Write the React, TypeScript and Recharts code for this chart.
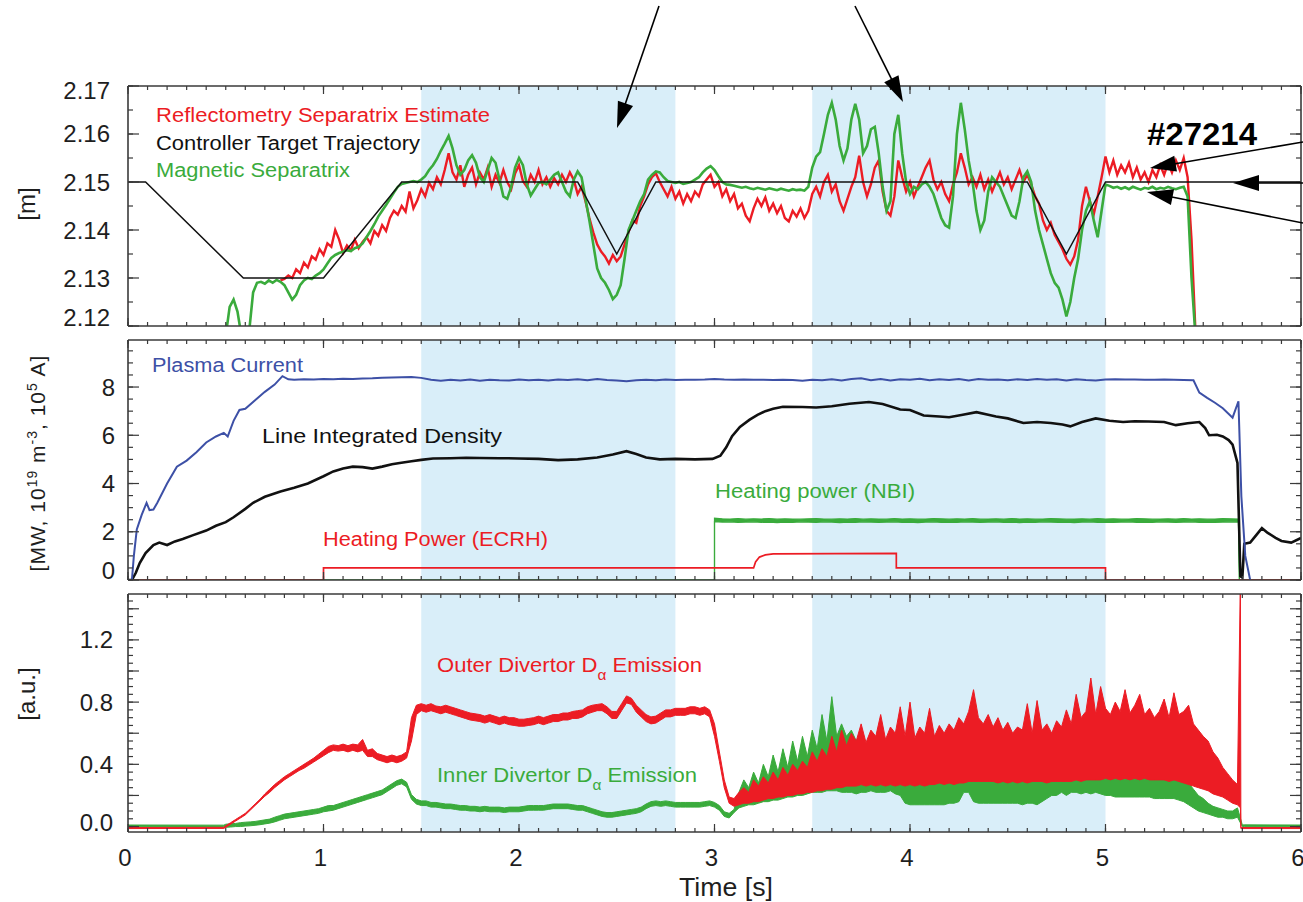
import React from 'react';
import { LineChart, ComposedChart, Line, Area, XAxis, YAxis, ReferenceArea } from 'recharts';

// ---------- look ----------
const FONT = '"Liberation Sans", Arial, Helvetica, sans-serif';
const INK = '#1e1e1e';
const FRAME = '#3a3a3a';
const RED = '#ec1c24';
const GREEN = '#3aab3c';
const BLUE = '#3d50a6';
const BLACK = '#111111';
const SHADE = '#d9eef9';

// ---------- time axis ----------
const X_MAJOR = [0, 1, 2, 3, 4, 5, 6];
const X_LABELS = ['0', '1', '2', '3', '4', '5', '6'];
const X_MINOR = Array.from({ length: 61 }, (_, i) => i / 10);
// end points of the time window, used as the frame axes' data
const FRAME_DATA = [{ t: 0 }, { t: 6 }];

// shaded phases [s]
const phaseStart = [1.5, 3.5];
const phaseEnd = [2.8, 5.0];

// ---------- panel 1: separatrix position [m] ----------
const P1_TICKS = [2.12, 2.13, 2.14, 2.15, 2.16, 2.17];
const P1_LABELS = ['2.12', '2.13', '2.14', '2.15', '2.16', '2.17'];
const P1_MINOR = Array.from({ length: 11 }, (_, i) => 2.12 + i * 0.005);

const trajT = [0, 0.09, 0.59, 1.0, 1.4, 2.3, 2.5, 2.7, 4.6, 4.8, 5.0, 6.0];
const trajV = [2.15, 2.15, 2.13, 2.13, 2.15, 2.15, 2.135, 2.15, 2.15, 2.135, 2.15, 2.15];

const reflT0 = 0.78;
const reflDt = 0.02;
const reflV = [
  2.1295, 2.1298, 2.1305, 2.13, 2.1318, 2.131, 2.1332, 2.1322, 2.1345, 2.1338,
  2.136, 2.1348, 2.1372, 2.1365, 2.14, 2.138, 2.1352, 2.1368, 2.1358, 2.138,
  2.1362, 2.1375, 2.1385, 2.1372, 2.1398, 2.1388, 2.141, 2.1398, 2.1425, 2.144,
  2.1432, 2.145, 2.1438, 2.148, 2.1445, 2.1462, 2.1485, 2.147, 2.1498, 2.1485,
  2.151, 2.1495, 2.1525, 2.156, 2.152, 2.1505, 2.1535, 2.149, 2.1515, 2.153,
  2.1495, 2.152, 2.1505, 2.153, 2.149, 2.1515, 2.1498, 2.1525, 2.15, 2.1485,
  2.1518, 2.1535, 2.1502, 2.149, 2.1515, 2.15, 2.1525, 2.1495, 2.151, 2.149,
  2.1508, 2.1495, 2.1515, 2.15, 2.152, 2.1505, 2.1475, 2.149, 2.146, 2.1425,
  2.1395, 2.137, 2.1355, 2.1345, 2.133, 2.1348, 2.1335, 2.1345, 2.137, 2.1395,
  2.142, 2.1415, 2.145, 2.147, 2.1495, 2.151, 2.1518, 2.15, 2.1485, 2.147,
  2.149, 2.1465, 2.148, 2.1455, 2.1475, 2.146, 2.148, 2.147, 2.1495, 2.1505,
  2.1515, 2.149, 2.15, 2.147, 2.1485, 2.146, 2.1475, 2.1445, 2.1455, 2.143,
  2.1418, 2.1445, 2.1465, 2.145, 2.1468, 2.144, 2.1455, 2.1435, 2.145, 2.1425,
  2.1418, 2.144, 2.1428, 2.1445, 2.1425, 2.144, 2.1475, 2.149, 2.147, 2.15,
  2.1515, 2.148, 2.1495, 2.146, 2.144, 2.1465, 2.149, 2.151, 2.1555, 2.15,
  2.147, 2.1495, 2.153, 2.1545, 2.148, 2.144, 2.143, 2.147, 2.1545, 2.151,
  2.148, 2.15, 2.147, 2.149, 2.151, 2.153, 2.1545, 2.1505, 2.1485, 2.15,
  2.1475, 2.146, 2.1495, 2.152, 2.156, 2.153, 2.1495, 2.151, 2.149, 2.1515,
  2.1485, 2.1505, 2.148, 2.15, 2.152, 2.1495, 2.151, 2.1485, 2.1505, 2.1525,
  2.15, 2.1515, 2.1495, 2.147, 2.1455, 2.142, 2.14, 2.1415, 2.139, 2.1375,
  2.136, 2.134, 2.1328, 2.1345, 2.138, 2.145, 2.149, 2.146, 2.1433, 2.147,
  2.151, 2.1553, 2.152, 2.1545, 2.1515, 2.1535, 2.152, 2.154, 2.151, 2.153,
  2.1505, 2.152, 2.15, 2.1525, 2.151, 2.1535, 2.1515, 2.154, 2.152, 2.1545,
  2.1525, 2.155, 2.151, 2.138, 2.119, 2.118, 2.1175,
];

const magT0 = 0.5;
const magDt = 0.02;
const magV = [
  2.118, 2.124, 2.1255, 2.123, 2.118, 2.116, 2.119, 2.127, 2.129, 2.1292,
  2.1288, 2.1295, 2.129, 2.1296, 2.1292, 2.1285, 2.127, 2.1255, 2.1265, 2.1285,
  2.1295, 2.13, 2.1298, 2.1305, 2.131, 2.1318, 2.133, 2.1342, 2.1348, 2.1352,
  2.1355, 2.1358, 2.1356, 2.1362, 2.1365, 2.1372, 2.1385, 2.1398, 2.1412, 2.1428,
  2.144, 2.1452, 2.1465, 2.1478, 2.149, 2.1496, 2.1498, 2.15, 2.1502, 2.15,
  2.1505, 2.1512, 2.1525, 2.1535, 2.1548, 2.1565, 2.158, 2.1596, 2.157, 2.1535,
  2.1515, 2.1525, 2.1545, 2.1556, 2.154, 2.151, 2.15, 2.1525, 2.155, 2.154,
  2.1505, 2.147, 2.1465, 2.149, 2.153, 2.155, 2.1535, 2.1495, 2.1472, 2.1485,
  2.1498, 2.15, 2.1495, 2.1505, 2.1515, 2.152, 2.15, 2.148, 2.147, 2.1505,
  2.1522, 2.151, 2.1465, 2.142, 2.137, 2.132, 2.13, 2.129, 2.1275, 2.1256,
  2.1265, 2.1285, 2.134, 2.14, 2.142, 2.144, 2.146, 2.1475, 2.1505, 2.1515,
  2.1522, 2.152, 2.151, 2.1502, 2.15, 2.1498, 2.15, 2.1496, 2.1498, 2.15,
  2.1505, 2.151, 2.152, 2.1528, 2.1533, 2.1525, 2.1512, 2.15, 2.1495, 2.1494,
  2.1492, 2.149, 2.1488, 2.149, 2.1487, 2.1485, 2.1488, 2.1486, 2.1484, 2.1487,
  2.1485, 2.1483, 2.1486, 2.1484, 2.1482, 2.1485, 2.1483, 2.1484, 2.1482, 2.149,
  2.153, 2.1553, 2.1562, 2.16, 2.164, 2.1665, 2.163, 2.1575, 2.1545, 2.157,
  2.163, 2.1663, 2.163, 2.156, 2.1575, 2.161, 2.1615, 2.156, 2.149, 2.144,
  2.146, 2.16, 2.164, 2.156, 2.15, 2.1475, 2.149, 2.1485, 2.1495, 2.15,
  2.149, 2.1475, 2.145, 2.1425, 2.141, 2.1405, 2.147, 2.16, 2.1665, 2.161,
  2.1545, 2.15, 2.144, 2.14, 2.142, 2.148, 2.151, 2.15, 2.149, 2.147,
  2.145, 2.143, 2.1425, 2.146, 2.151, 2.1522, 2.15, 2.144, 2.14, 2.137,
  2.134, 2.131, 2.129, 2.128, 2.1255, 2.122, 2.125, 2.13, 2.134, 2.14,
  2.144, 2.146, 2.142, 2.1385, 2.144, 2.1495, 2.1492, 2.1488, 2.149, 2.1486,
  2.1489, 2.1485, 2.149, 2.1487, 2.1484, 2.1488, 2.1486, 2.149, 2.1485, 2.1488,
  2.1486, 2.149, 2.1487, 2.1485, 2.1488, 2.149, 2.147, 2.13, 2.118,
];

// ---------- panel 2: MW, 1e19 m^-3, 1e5 A ----------
const P2_TICKS = [0, 2, 4, 6, 8];
const P2_LABELS = ['0', '2', '4', '6', '8'];
const P2_MINOR = Array.from({ length: 20 }, (_, i) => i * 0.5);

const ipHeadT = [0, 0.02, 0.03, 0.045, 0.07, 0.095, 0.11, 0.13, 0.15, 0.2, 0.25, 0.3, 0.35, 0.4, 0.45, 0.49, 0.51, 0.54, 0.57, 0.6, 0.65, 0.7, 0.75, 0.79, 0.82];
const ipHeadV = [0, 0, 1.0, 2.1, 2.7, 3.2, 2.9, 2.92, 3.2, 4.0, 4.7, 4.95, 5.3, 5.7, 5.95, 6.1, 5.95, 6.6, 7.05, 7.1, 7.45, 7.8, 8.1, 8.45, 8.32];
const ipFlatT0 = 0.85;
const ipFlatDt = 0.05;
const ipFlatV = [
  8.3, 8.32, 8.31, 8.33, 8.32, 8.34, 8.33, 8.35, 8.36, 8.38,
  8.4, 8.41, 8.42, 8.38, 8.3, 8.26, 8.3, 8.27, 8.31, 8.26,
  8.3, 8.28, 8.27, 8.31, 8.28, 8.3, 8.27, 8.31, 8.29, 8.32,
  8.28, 8.33, 8.29, 8.27, 8.24, 8.28, 8.3, 8.28, 8.31, 8.29,
  8.3, 8.3, 8.31, 8.33, 8.31, 8.3, 8.31, 8.3, 8.3, 8.29,
  8.3, 8.29, 8.26, 8.3, 8.28, 8.32, 8.27, 8.33, 8.36, 8.28,
  8.33, 8.27, 8.32, 8.3, 8.34, 8.28, 8.32, 8.29, 8.33, 8.27,
  8.33, 8.3, 8.31, 8.28, 8.32, 8.29, 8.33, 8.3, 8.32, 8.27,
  8.32, 8.29, 8.27, 8.31, 8.32, 8.31, 8.31, 8.3, 8.3, 8.31,
  8.3, 8.29, 8.28,
];
const ipTailT = [5.48, 5.52, 5.56, 5.6, 5.65, 5.68, 5.695, 5.715, 5.74];
const ipTailV = [7.77, 7.55, 7.35, 7.12, 6.73, 7.41, 3.46, 1.0, 0];

const densT = [
  0, 0.02, 0.04, 0.06, 0.09, 0.13, 0.16, 0.2, 0.24, 0.28, 0.33, 0.4, 0.45, 0.5, 0.54, 0.6, 0.64, 0.7, 0.78, 0.85,
  0.92, 1.0, 1.05, 1.1, 1.15, 1.2, 1.25, 1.3, 1.35, 1.39, 1.45, 1.5, 1.56, 1.65, 1.73, 1.8, 1.9, 2.0, 2.1, 2.2,
  2.3, 2.4, 2.48, 2.55, 2.6, 2.65, 2.72, 2.8, 2.9, 2.99, 3.03, 3.06, 3.09, 3.13, 3.18, 3.22, 3.26, 3.3, 3.35, 3.45,
  3.52, 3.6, 3.69, 3.79, 3.86, 3.95, 4.0, 4.07, 4.15, 4.2, 4.27, 4.34, 4.4, 4.44, 4.5, 4.58, 4.65, 4.72, 4.78, 4.82,
  4.88, 4.95, 5.02, 5.09, 5.15, 5.22, 5.3, 5.36, 5.42, 5.48, 5.51, 5.53, 5.57, 5.6, 5.63, 5.65, 5.675, 5.69, 5.7, 5.71,
  5.74, 5.77, 5.8, 5.83, 5.87, 5.9, 5.95, 6.0,
];
const densV = [
  0, 0, 0.3, 0.7, 1.12, 1.45, 1.55, 1.45, 1.6, 1.7, 1.85, 2.05, 2.25, 2.4, 2.6, 2.95, 3.2, 3.45, 3.67, 3.82,
  4.0, 4.3, 4.5, 4.62, 4.7, 4.68, 4.62, 4.7, 4.8, 4.85, 4.92, 4.98, 5.04, 5.05, 5.07, 5.06, 5.05, 5.04, 5.02, 4.97,
  5.0, 5.08, 5.2, 5.34, 5.22, 5.08, 5.0, 5.02, 5.0, 5.02, 5.15, 5.5, 5.96, 6.35, 6.65, 6.85, 7.0, 7.1, 7.18, 7.17,
  7.15, 7.2, 7.31, 7.38, 7.3, 7.07, 7.05, 6.82, 6.78, 6.75, 6.85, 6.96, 6.85, 6.78, 6.7, 6.51, 6.55, 6.51, 6.45, 6.37,
  6.55, 6.7, 6.6, 6.55, 6.58, 6.57, 6.55, 6.42, 6.5, 6.55, 6.3, 6.0, 6.02, 5.95, 5.8, 5.61, 4.85, 0.15, 0.1, 1.5,
  1.55, 1.85, 2.15, 1.95, 1.75, 1.62, 1.55, 1.74,
];

const ecrhT = [0, 1.0, 1.0, 3.2, 3.21, 3.23, 3.26, 3.3, 3.93, 3.93, 5.0, 5.0, 6.0];
const ecrhV = [0, 0, 0.5, 0.5, 0.75, 0.95, 1.04, 1.08, 1.1, 0.5, 0.5, 0, 0];

// NBI power: lower / upper excursion of the noisy plateau
const nbiHeadT = [0, 3.0];
const nbiHeadLo = [0, 0];
const nbiHeadHi = [0, 0];
const nbiT0 = 3.0;
const nbiDt = 0.04;
const nbiLo = [
  2.42, 2.4, 2.41, 2.39, 2.4, 2.41, 2.39, 2.4, 2.38, 2.4,
  2.39, 2.41, 2.4, 2.39, 2.41, 2.4, 2.38, 2.4, 2.39, 2.41,
  2.4, 2.39, 2.4, 2.41, 2.39, 2.4, 2.38, 2.4, 2.41, 2.39,
  2.4, 2.39, 2.41, 2.4, 2.39, 2.4, 2.41, 2.39, 2.4, 2.38,
  2.4, 2.39, 2.41, 2.4, 2.39, 2.4, 2.38, 2.4, 2.41, 2.39,
  2.4, 2.39, 2.4, 2.41, 2.39, 2.4, 2.39, 2.41, 2.4, 2.39,
  2.4, 2.41, 2.39, 2.4, 2.39, 2.4, 2.41, 2.4,
];
const nbiHi = [
  2.56, 2.54, 2.53, 2.55, 2.52, 2.54, 2.53, 2.55, 2.52, 2.54,
  2.53, 2.52, 2.54, 2.55, 2.53, 2.52, 2.54, 2.53, 2.55, 2.52,
  2.54, 2.53, 2.52, 2.55, 2.53, 2.54, 2.52, 2.53, 2.55, 2.54,
  2.52, 2.54, 2.53, 2.55, 2.52, 2.53, 2.54, 2.52, 2.55, 2.53,
  2.54, 2.52, 2.53, 2.55, 2.54, 2.52, 2.53, 2.54, 2.52, 2.55,
  2.53, 2.54, 2.52, 2.53, 2.55, 2.54, 2.52, 2.53, 2.54, 2.52,
  2.55, 2.53, 2.54, 2.52, 2.53, 2.55, 2.54, 2.53,
];
const nbiTailT = [5.685, 6.0];
const nbiTailLo = [0, 0];
const nbiTailHi = [0, 0];

// ---------- panel 3: divertor D-alpha [a.u.] ----------
const P3_TICKS = [0, 0.4, 0.8, 1.2];
const P3_LABELS = ['0.0', '0.4', '0.8', '1.2'];
const P3_MAJOR = [0, 0.2, 0.4, 0.6, 0.8, 1.0, 1.2, 1.4];
const P3_MINOR = Array.from({ length: 30 }, (_, i) => i * 0.05);

const DA_T0 = 0.5;
const DA_DT = 0.025;

const outerHeadT = [0, 0.49];
const outerHeadLo = [-0.013, -0.012];
const outerHeadHi = [-0.006, -0.005];
const outerLo = [
  -0.005, 0.015, 0.035, 0.055, 0.075, 0.105, 0.135, 0.165,
  0.195, 0.22, 0.25, 0.275, 0.3, 0.32, 0.34, 0.36,
  0.375, 0.395, 0.415, 0.435, 0.455, 0.475, 0.49, 0.485,
  0.49, 0.48, 0.49, 0.48, 0.49, 0.45, 0.45, 0.43,
  0.42, 0.41, 0.42, 0.41, 0.42, 0.44, 0.55, 0.72,
  0.745, 0.735, 0.745, 0.735, 0.725, 0.735, 0.725, 0.715,
  0.705, 0.695, 0.685, 0.68, 0.675, 0.665, 0.675, 0.665,
  0.655, 0.665, 0.655, 0.65, 0.645, 0.645, 0.65, 0.655,
  0.665, 0.655, 0.665, 0.675, 0.675, 0.685, 0.685, 0.695,
  0.695, 0.705, 0.725, 0.735, 0.745, 0.745, 0.725, 0.695,
  0.695, 0.745, 0.795, 0.785, 0.735, 0.705, 0.675, 0.66,
  0.665, 0.685, 0.705, 0.705, 0.715, 0.715, 0.715, 0.725,
  0.725, 0.715, 0.725, 0.705, 0.58, 0.42, 0.25, 0.15,
  0.13, 0.14, 0.15, 0.15, 0.16, 0.16, 0.17, 0.18,
  0.18, 0.19, 0.19, 0.2, 0.2, 0.21, 0.21, 0.22,
  0.22, 0.23, 0.23, 0.24, 0.24, 0.25, 0.25, 0.26,
  0.26, 0.26, 0.27, 0.26, 0.27, 0.26, 0.27, 0.26,
  0.27, 0.26, 0.27, 0.26, 0.27, 0.26, 0.27, 0.26,
  0.27, 0.27, 0.28, 0.27, 0.28, 0.27, 0.28, 0.28,
  0.29, 0.29, 0.29, 0.29, 0.29, 0.29, 0.28, 0.29,
  0.28, 0.29, 0.28, 0.29, 0.28, 0.29, 0.29, 0.29,
  0.28, 0.29, 0.29, 0.29, 0.29, 0.29, 0.3, 0.29,
  0.3, 0.3, 0.3, 0.3, 0.31, 0.3, 0.31, 0.3,
  0.31, 0.3, 0.31, 0.3, 0.31, 0.3, 0.3, 0.3,
  0.3, 0.29, 0.3, 0.29, 0.28, 0.27, 0.26, 0.25,
  0.24, 0.23, 0.21, 0.2, 0.19, 0.17, 0.15, 0.14,
];
const outerHi = [
  0.005, 0.025, 0.045, 0.065, 0.085, 0.115, 0.145, 0.175,
  0.21, 0.24, 0.27, 0.295, 0.32, 0.34, 0.36, 0.38,
  0.4, 0.42, 0.44, 0.465, 0.49, 0.515, 0.525, 0.52,
  0.53, 0.52, 0.53, 0.525, 0.56, 0.49, 0.5, 0.47,
  0.46, 0.45, 0.46, 0.45, 0.46, 0.48, 0.7, 0.78,
  0.79, 0.78, 0.79, 0.775, 0.77, 0.78, 0.77, 0.76,
  0.75, 0.74, 0.73, 0.725, 0.72, 0.71, 0.72, 0.71,
  0.7, 0.71, 0.7, 0.7, 0.69, 0.69, 0.695, 0.7,
  0.71, 0.7, 0.71, 0.72, 0.72, 0.73, 0.73, 0.74,
  0.745, 0.75, 0.77, 0.78, 0.785, 0.79, 0.77, 0.74,
  0.74, 0.79, 0.84, 0.825, 0.78, 0.75, 0.72, 0.705,
  0.71, 0.73, 0.75, 0.75, 0.76, 0.76, 0.76, 0.77,
  0.77, 0.76, 0.77, 0.75, 0.66, 0.48, 0.3, 0.19,
  0.18, 0.22, 0.25, 0.22, 0.3, 0.26, 0.32, 0.28,
  0.35, 0.3, 0.38, 0.33, 0.4, 0.36, 0.42, 0.38,
  0.48, 0.42, 0.5, 0.45, 0.58, 0.48, 0.62, 0.52,
  0.6, 0.55, 0.66, 0.54, 0.62, 0.58, 0.72, 0.56,
  0.64, 0.6, 0.77, 0.58, 0.8, 0.57, 0.64, 0.6,
  0.76, 0.58, 0.65, 0.6, 0.66, 0.62, 0.7, 0.66,
  0.74, 0.88, 0.7, 0.66, 0.72, 0.64, 0.7, 0.62,
  0.67, 0.6, 0.64, 0.62, 0.79, 0.6, 0.81, 0.62,
  0.66, 0.6, 0.68, 0.64, 0.75, 0.66, 0.85, 0.7,
  0.74, 0.955, 0.72, 0.9, 0.76, 0.72, 0.8, 0.74,
  0.88, 0.73, 0.78, 0.85, 0.72, 0.76, 0.7, 0.74,
  0.82, 0.7, 0.86, 0.72, 0.74, 0.78, 0.66, 0.62,
  0.58, 0.55, 0.48, 0.44, 0.38, 0.34, 0.3, 0.27,
];
const outerTailT = [5.69, 5.6925, 5.695, 6.0];
const outerTailLo = [0.12, -0.013, -0.013, -0.013];
const outerTailHi = [1.6, -0.006, -0.006, -0.006];

const innerHeadT = [0, 0.49];
const innerHeadLo = [0.001, 0.0];
const innerHeadHi = [0.01, 0.009];
const innerLo = [
  -0.005, -0.003, 0.0, 0.0, 0.003, 0.005, 0.008, 0.012,
  0.017, 0.022, 0.03, 0.04, 0.05, 0.055, 0.06, 0.065,
  0.07, 0.075, 0.08, 0.085, 0.095, 0.1, 0.105, 0.115,
  0.125, 0.135, 0.145, 0.155, 0.165, 0.175, 0.185, 0.195,
  0.205, 0.225, 0.245, 0.265, 0.275, 0.255, 0.175, 0.145,
  0.135, 0.135, 0.125, 0.125, 0.12, 0.115, 0.115, 0.11,
  0.105, 0.105, 0.1, 0.1, 0.095, 0.1, 0.095, 0.095,
  0.095, 0.09, 0.095, 0.095, 0.095, 0.1, 0.105, 0.105,
  0.105, 0.105, 0.11, 0.115, 0.115, 0.115, 0.115, 0.11,
  0.105, 0.105, 0.095, 0.085, 0.075, 0.065, 0.06, 0.06,
  0.065, 0.07, 0.075, 0.08, 0.085, 0.095, 0.115, 0.13,
  0.135, 0.13, 0.135, 0.13, 0.125, 0.125, 0.125, 0.125,
  0.125, 0.125, 0.13, 0.135, 0.125, 0.105, 0.065, 0.055,
  0.09, 0.12, 0.13, 0.14, 0.14, 0.15, 0.16, 0.16,
  0.17, 0.17, 0.18, 0.19, 0.19, 0.2, 0.2, 0.21,
  0.22, 0.22, 0.22, 0.23, 0.23, 0.23, 0.22, 0.22,
  0.22, 0.21, 0.22, 0.22, 0.23, 0.22, 0.22, 0.22,
  0.23, 0.21, 0.2, 0.15, 0.14, 0.14, 0.14, 0.14,
  0.14, 0.14, 0.14, 0.14, 0.15, 0.15, 0.16, 0.22,
  0.22, 0.16, 0.15, 0.15, 0.15, 0.15, 0.15, 0.15,
  0.15, 0.15, 0.15, 0.14, 0.15, 0.15, 0.14, 0.16,
  0.18, 0.2, 0.2, 0.22, 0.2, 0.22, 0.22, 0.21,
  0.22, 0.21, 0.22, 0.21, 0.2, 0.2, 0.19, 0.19,
  0.19, 0.19, 0.19, 0.19, 0.19, 0.19, 0.18, 0.18,
  0.18, 0.18, 0.18, 0.17, 0.16, 0.14, 0.12, 0.1,
  0.09, 0.08, 0.07, 0.06, 0.06, 0.05, 0.05, 0.06,
];
const innerHi = [
  0.015, 0.018, 0.02, 0.025, 0.028, 0.03, 0.033, 0.038,
  0.043, 0.048, 0.06, 0.07, 0.08, 0.085, 0.09, 0.095,
  0.1, 0.105, 0.11, 0.115, 0.125, 0.135, 0.135, 0.145,
  0.155, 0.165, 0.175, 0.185, 0.195, 0.205, 0.215, 0.225,
  0.235, 0.255, 0.275, 0.295, 0.305, 0.285, 0.205, 0.175,
  0.165, 0.165, 0.155, 0.155, 0.15, 0.145, 0.145, 0.14,
  0.135, 0.135, 0.13, 0.13, 0.125, 0.13, 0.125, 0.125,
  0.125, 0.12, 0.125, 0.125, 0.125, 0.13, 0.135, 0.135,
  0.135, 0.135, 0.14, 0.145, 0.145, 0.145, 0.145, 0.14,
  0.135, 0.135, 0.125, 0.115, 0.105, 0.095, 0.09, 0.09,
  0.095, 0.1, 0.105, 0.11, 0.115, 0.125, 0.145, 0.16,
  0.165, 0.16, 0.165, 0.16, 0.155, 0.155, 0.155, 0.155,
  0.155, 0.155, 0.16, 0.165, 0.155, 0.135, 0.095, 0.085,
  0.11, 0.22, 0.3, 0.25, 0.35, 0.28, 0.4, 0.32,
  0.46, 0.35, 0.5, 0.38, 0.55, 0.42, 0.58, 0.45,
  0.62, 0.5, 0.72, 0.55, 0.835, 0.58, 0.66, 0.58,
  0.62, 0.55, 0.6, 0.5, 0.58, 0.45, 0.52, 0.42,
  0.5, 0.44, 0.48, 0.4, 0.45, 0.38, 0.42, 0.36,
  0.4, 0.38, 0.42, 0.44, 0.48, 0.52, 0.58, 0.62,
  0.55, 0.48, 0.42, 0.4, 0.38, 0.4, 0.36, 0.38,
  0.36, 0.38, 0.36, 0.38, 0.35, 0.38, 0.36, 0.4,
  0.45, 0.52, 0.58, 0.62, 0.55, 0.6, 0.58, 0.62,
  0.55, 0.6, 0.52, 0.62, 0.45, 0.38, 0.4, 0.36,
  0.38, 0.36, 0.38, 0.36, 0.36, 0.35, 0.35, 0.34,
  0.34, 0.33, 0.33, 0.32, 0.3, 0.28, 0.24, 0.2,
  0.18, 0.15, 0.13, 0.12, 0.11, 0.1, 0.1, 0.12,
];
const innerTailT = [5.7, 5.71, 6.0];
const innerTailLo = [0.0, 0.001, 0.001];
const innerTailHi = [0.01, 0.011, 0.01];

// ---------- series builders ----------
type Pt = { t: number; v: number };
type Rg = { t: number; r: [number, number] };
const pairs = (ts: number[], vs: number[]): Pt[] => ts.map((t, i) => ({ t, v: vs[i] }));
const grid = (t0: number, dt: number, vs: number[]): Pt[] => vs.map((v, i) => ({ t: t0 + i * dt, v }));
const rangePairs = (ts: number[], lo: number[], hi: number[]): Rg[] => ts.map((t, i) => ({ t, r: [lo[i], hi[i]] }));
const rangeGrid = (t0: number, dt: number, lo: number[], hi: number[]): Rg[] =>
  lo.map((l, i) => ({ t: t0 + i * dt, r: [l, hi[i]] }));

const trajSeries = pairs(trajT, trajV);
const reflSeries = grid(reflT0, reflDt, reflV);
const magSeries = grid(magT0, magDt, magV);

const ipSeries = [...pairs(ipHeadT, ipHeadV), ...grid(ipFlatT0, ipFlatDt, ipFlatV), ...pairs(ipTailT, ipTailV)];
const densSeries = pairs(densT, densV);
const ecrhSeries = pairs(ecrhT, ecrhV);
const nbiSeries = [
  ...rangePairs(nbiHeadT, nbiHeadLo, nbiHeadHi),
  ...rangeGrid(nbiT0, nbiDt, nbiLo, nbiHi),
  ...rangePairs(nbiTailT, nbiTailLo, nbiTailHi),
];

const outerSeries = [
  ...rangePairs(outerHeadT, outerHeadLo, outerHeadHi),
  ...rangeGrid(DA_T0, DA_DT, outerLo, outerHi),
  ...rangePairs(outerTailT, outerTailLo, outerTailHi),
];
const innerSeries = [
  ...rangePairs(innerHeadT, innerHeadLo, innerHeadHi),
  ...rangeGrid(DA_T0, DA_DT, innerLo, innerHi),
  ...rangePairs(innerTailT, innerTailLo, innerTailHi),
];

// ---------- axes / frame ----------
type FrameOpts = {
  yDomain: [number, number];
  yMajor: number[];
  yMinor: number[];
  yTicks: number[];
  yLabels: string[];
  yShift: number[];
  labelGap: number;
};

const THIN = 0.001; // mirrored frame axes take no room
const noLabel = () => <g />;

function frameAxes(o: FrameOpts) {
  const axisLine = { stroke: FRAME, strokeWidth: 1.6 };
  const tickLine = { stroke: FRAME, strokeWidth: 1.2 };
  const xc = { type: 'number' as const, dataKey: 't', domain: [0, 6], allowDataOverflow: true, interval: 0 as const, tick: noLabel, height: THIN, mirror: true };
  const yc = { type: 'number' as const, domain: o.yDomain, allowDataOverflow: true, interval: 0 as const, tick: noLabel, width: THIN, mirror: true };
  const yTick = (p: any) => {
    const i = o.yTicks.indexOf(p.payload.value);
    if (i < 0) return <g />;
    return (
      <text x={p.x} y={p.y + o.yShift[i]} textAnchor="end" dominantBaseline="central" fontSize={24} fontFamily={FONT} fill={INK}>
        {o.yLabels[i]}
      </text>
    );
  };
  return [
    <XAxis key="xb" xAxisId="main" {...xc} orientation="bottom" ticks={X_MAJOR} tickSize={8} axisLine={axisLine} tickLine={tickLine} />,
    <XAxis key="xbm" xAxisId="xbm" {...xc} orientation="bottom" ticks={X_MINOR} tickSize={4} axisLine={false} tickLine={tickLine} />,
    <XAxis key="xt" xAxisId="xt" {...xc} orientation="top" ticks={X_MAJOR} tickSize={8} axisLine={axisLine} tickLine={tickLine} />,
    <XAxis key="xtm" xAxisId="xtm" {...xc} orientation="top" ticks={X_MINOR} tickSize={4} axisLine={false} tickLine={tickLine} />,
    <YAxis key="yl" yAxisId="main" type="number" domain={o.yDomain} allowDataOverflow interval={0} orientation="left" width={128}
      ticks={o.yTicks} tick={yTick} tickLine={false} axisLine={false} tickSize={0} tickMargin={o.labelGap} />,
    <YAxis key="ylM" yAxisId="ylM" {...yc} orientation="left" ticks={o.yMajor} tickSize={11} axisLine={axisLine} tickLine={tickLine} />,
    <YAxis key="ylm" yAxisId="ylm" {...yc} orientation="left" ticks={o.yMinor} tickSize={5} axisLine={false} tickLine={tickLine} />,
    <YAxis key="yrM" yAxisId="yrM" {...yc} orientation="right" ticks={o.yMajor} tickSize={11} axisLine={axisLine} tickLine={tickLine} />,
    <YAxis key="yrm" yAxisId="yrm" {...yc} orientation="right" ticks={o.yMinor} tickSize={5} axisLine={false} tickLine={tickLine} />,
  ];
}

const phases = () =>
  phaseStart.map((s, i) => (
    <ReferenceArea key={'ph' + i} xAxisId="main" yAxisId="main" x1={s} x2={phaseEnd[i]} fill={SHADE} fillOpacity={1} stroke="none" ifOverflow="hidden" />
  ));

const xLabelTick = (p: any) => {
  const i = X_MAJOR.indexOf(p.payload.value);
  return (
    <text x={p.x - 3} y={p.y + 25} textAnchor="middle" dominantBaseline="central" fontSize={24} fontFamily={FONT} fill={INK}>
      {X_LABELS[i]}
    </text>
  );
};

const lineProps = { xAxisId: 'main', yAxisId: 'main', dataKey: 'v', dot: false, activeDot: false, isAnimationActive: false, type: 'linear' as const };
const bandProps = { xAxisId: 'main', yAxisId: 'main', dataKey: 'r', dot: false, activeDot: false, isAnimationActive: false, type: 'linear' as const, fillOpacity: 1 };

// ---------- annotation arrows ----------
function Arrow({ x1, y1, x2, y2 }: { x1: number; y1: number; x2: number; y2: number }) {
  const dx = x2 - x1;
  const dy = y2 - y1;
  const len = Math.hypot(dx, dy);
  const ux = dx / len;
  const uy = dy / len;
  const L = 26;
  const H = 8;
  const bx = x2 - ux * L;
  const by = y2 - uy * L;
  const pts = `${x2},${y2} ${bx - uy * H},${by + ux * H} ${bx + uy * H},${by - ux * H}`;
  return (
    <g>
      <line x1={x1} y1={y1} x2={bx + ux * 2} y2={by + uy * 2} stroke="#000" strokeWidth={1.6} />
      <polygon points={pts} fill="#000" />
    </g>
  );
}

function Overlay() {
  const leg = { fontFamily: FONT, fontSize: 20, lengthAdjust: 'spacingAndGlyphs' as const };
  return (
    <svg width={1303} height={902} style={{ position: 'absolute', left: 0, top: 0, pointerEvents: 'none' }}>
      {/* axis titles */}
      <text transform="translate(35,204) rotate(-90)" textAnchor="middle" fontSize={24} fontFamily={FONT} fill={INK}>[m]</text>
      <text transform="translate(45,463) rotate(-90)" textAnchor="middle" fontSize={21} fontFamily={FONT} fill={INK} letterSpacing={1}>
        [MW, 10<tspan dy={-8} fontSize={14}>19</tspan>
        <tspan dy={8}> m</tspan>
        <tspan dy={-8} fontSize={14}>-3</tspan>
        <tspan dy={8}>, 10</tspan>
        <tspan dy={-8} fontSize={14}>5</tspan>
        <tspan dy={8}> A]</tspan>
      </text>
      <text transform="translate(35,694) rotate(-90)" textAnchor="middle" fontSize={24} fontFamily={FONT} fill={INK}>[a.u.]</text>
      <text x={726} y={896} textAnchor="middle" fontSize={25} fontFamily={FONT} fill={INK} textLength={94} lengthAdjust="spacingAndGlyphs">Time [s]</text>

      {/* series names */}
      <text x={156} y={122} fill={RED} textLength={334} {...leg}>Reflectometry Separatrix Estimate</text>
      <text x={156} y={150} fill={BLACK} textLength={264} {...leg}>Controller Target Trajectory</text>
      <text x={156} y={177} fill={GREEN} textLength={194} {...leg}>Magnetic Separatrix</text>

      <text x={152} y={372} fill={BLUE} textLength={151} {...leg}>Plasma Current</text>
      <text x={262} y={443} fill={BLACK} textLength={240} {...leg}>Line Integrated Density</text>
      <text x={715} y={498} fill={GREEN} textLength={200} {...leg}>Heating power (NBI)</text>
      <text x={323} y={546} fill={RED} textLength={225} {...leg}>Heating Power (ECRH)</text>

      <text x={437} y={672} fill={RED} textLength={265} {...leg}>
        Outer Divertor D<tspan dy={8} fontSize={14}>α</tspan>
        <tspan dy={-8}> Emission</tspan>
      </text>
      <text x={437} y={782} fill={GREEN} textLength={260} {...leg}>
        Inner Divertor D<tspan dy={8} fontSize={14}>α</tspan>
        <tspan dy={-8}> Emission</tspan>
      </text>

      {/* shot number and pointers */}
      <text x={1147} y={145} fontFamily={FONT} fontSize={31} fontWeight="bold" fill="#000" textLength={110} lengthAdjust="spacingAndGlyphs">#27214</text>
      <Arrow x1={659} y1={6} x2={617} y2={128} />
      <Arrow x1={855} y1={6} x2={903} y2={102} />
      <Arrow x1={1303} y1={142} x2={1150} y2={168} />
      <Arrow x1={1303} y1={183} x2={1233} y2={183} />
      <Arrow x1={1303} y1={223} x2={1147} y2={192} />
    </svg>
  );
}

export default function App() {
  return (
    <div style={{ position: 'absolute', left: 0, top: 0, width: 1303, height: 902, background: '#fff', overflow: 'hidden', fontFamily: FONT }}>
      {/* panel 1: separatrix */}
      <div style={{ position: 'absolute', left: 0, top: 0 }}>
        <LineChart width={1303} height={340} data={FRAME_DATA} margin={{ top: 86, right: 2, bottom: 14, left: 0 }}>
          {phases()}
          {frameAxes({
            yDomain: [2.12, 2.17],
            yMajor: P1_TICKS,
            yMinor: P1_MINOR,
            yTicks: P1_TICKS,
            yLabels: P1_LABELS,
            yShift: [-9, 0, 0, 0, -1, 4],
            labelGap: 18,
          })}
          <Line {...lineProps} data={reflSeries} stroke={RED} strokeWidth={2.4} />
          <Line {...lineProps} data={magSeries} stroke={GREEN} strokeWidth={2.6} />
          <Line {...lineProps} data={trajSeries} stroke={BLACK} strokeWidth={1.5} />
        </LineChart>
      </div>

      {/* panel 2: current, density, heating */}
      <div style={{ position: 'absolute', left: 0, top: 330 }}>
        <ComposedChart width={1303} height={260} data={FRAME_DATA} margin={{ top: 10, right: 2, bottom: 10, left: 0 }}>
          {phases()}
          {frameAxes({
            yDomain: [0, 9.95],
            yMajor: P2_TICKS,
            yMinor: P2_MINOR,
            yTicks: P2_TICKS,
            yLabels: P2_LABELS,
            yShift: [-10, 0, 0, 0, 0],
            labelGap: 13,
          })}
          <Line {...lineProps} data={ecrhSeries} stroke={RED} strokeWidth={1.7} />
          <Area {...bandProps} data={nbiSeries} stroke={GREEN} fill={GREEN} strokeWidth={1.2} />
          <Line {...lineProps} data={densSeries} stroke={BLACK} strokeWidth={2.6} />
          <Line {...lineProps} data={ipSeries} stroke={BLUE} strokeWidth={2} />
        </ComposedChart>
      </div>

      {/* panel 3: divertor emission */}
      <div style={{ position: 'absolute', left: 0, top: 585 }}>
        <ComposedChart width={1303} height={317} data={FRAME_DATA} margin={{ top: 9, right: 2, bottom: 40, left: 0 }}>
          {phases()}
          {frameAxes({
            yDomain: [-0.035, 1.495],
            yMajor: P3_MAJOR,
            yMinor: P3_MINOR,
            yTicks: P3_TICKS,
            yLabels: P3_LABELS,
            yShift: [-4, 0, 0, 0],
            labelGap: 15,
          })}
          <XAxis xAxisId="lab" dataKey="t" type="number" domain={[0, 6]} allowDataOverflow interval={0} orientation="bottom" height={30}
            ticks={X_MAJOR} tick={xLabelTick} tickLine={false} axisLine={false} tickSize={0} tickMargin={0} />
          <Area {...bandProps} data={innerSeries} stroke={GREEN} fill={GREEN} strokeWidth={1} />
          <Area {...bandProps} data={outerSeries} stroke={RED} fill={RED} strokeWidth={1} />
        </ComposedChart>
      </div>

      <Overlay />
    </div>
  );
}
